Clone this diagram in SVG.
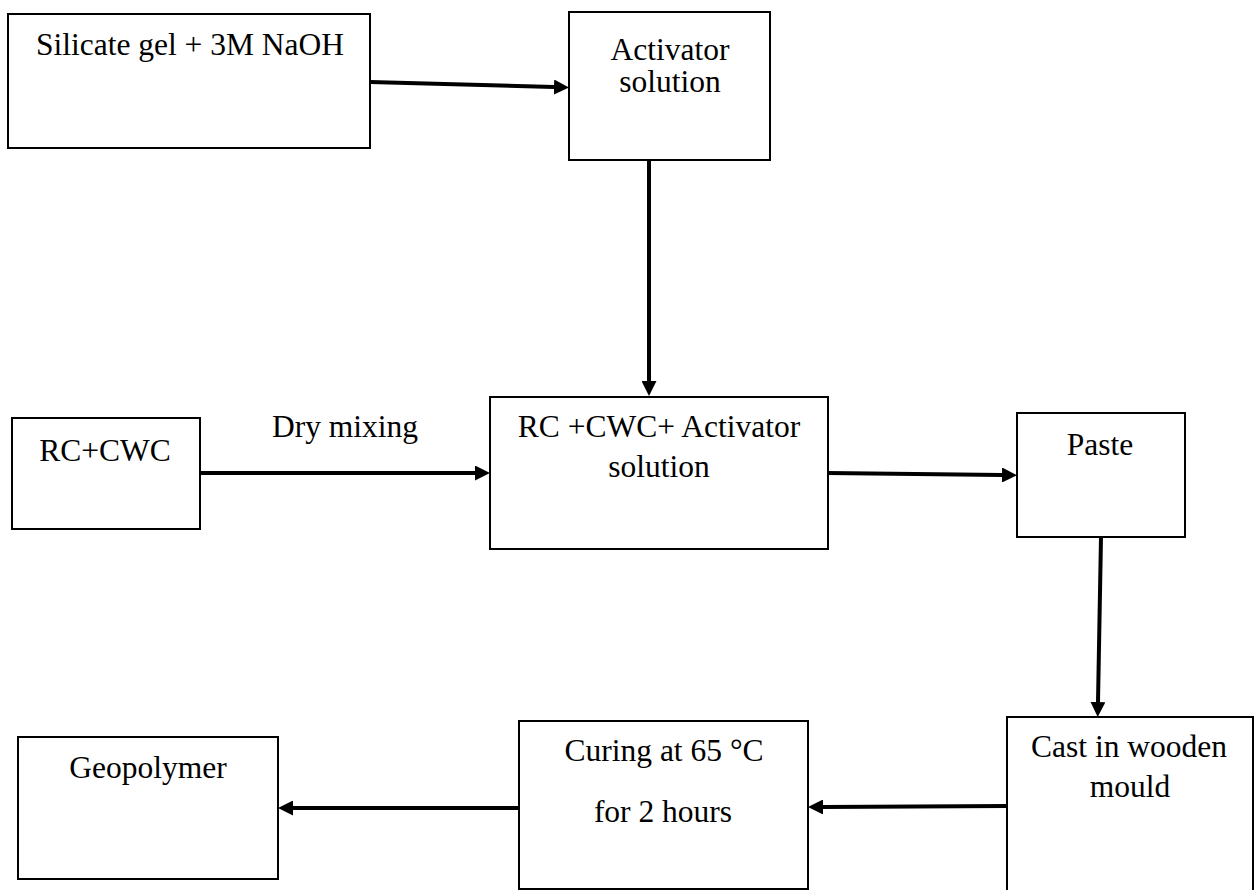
<svg xmlns="http://www.w3.org/2000/svg" width="1257" height="890" viewBox="0 0 1257 890">
<defs>
<style>
.box{fill:#fff;stroke:#000;stroke-width:2}
.t{font-family:"Liberation Serif","Times New Roman",serif;font-size:31.5px;fill:#000;text-anchor:middle}
.c{stroke:#000;stroke-width:4;fill:none}
</style>
<marker id="ah" markerUnits="userSpaceOnUse" markerWidth="15" markerHeight="15" refX="0" refY="7.5" orient="auto" viewBox="0 0 15 15">
<path d="M0,0 L15,7.5 L0,15 z" fill="#000"/>
</marker>
</defs>
<rect width="1257" height="890" fill="#fff"/>
<g id="n1"><rect class="box" x="8" y="14" width="362" height="134"/><text class="t" x="190" y="55">Silicate gel + 3M NaOH</text></g>
<g id="n2"><rect class="box" x="569" y="12" width="201" height="148"/><text class="t" x="670" y="60">Activator</text><text class="t" x="670" y="92">solution</text></g>
<g id="n3"><rect class="box" x="12" y="418" width="188" height="111"/><text class="t" x="105" y="461">RC+CWC</text></g>
<g id="n4"><rect class="box" x="490" y="397" width="338" height="152"/><text class="t" x="659" y="437">RC +CWC+ Activator</text><text class="t" x="659" y="477">solution</text></g>
<g id="n5"><rect class="box" x="1017" y="413" width="168" height="124"/><text class="t" x="1100" y="455">Paste</text></g>
<g id="n6"><rect class="box" x="1007" y="717" width="246" height="190"/><text class="t" x="1129" y="757">Cast in wooden</text><text class="t" x="1130" y="797">mould</text></g>
<g id="n7"><rect class="box" x="519" y="721" width="289" height="168"/><text class="t" x="664" y="761">Curing at 65 °C</text><text class="t" x="663" y="822">for 2 hours</text></g>
<g id="n8"><rect class="box" x="18" y="737" width="260" height="142"/><text class="t" x="148" y="778">Geopolymer</text></g>
<text class="t" x="345" y="437">Dry mixing</text>
<g id="connectors">
<line class="c" x1="370" y1="82" x2="554" y2="87" marker-end="url(#ah)"/>
<line class="c" x1="649" y1="160" x2="649" y2="381" marker-end="url(#ah)"/>
<line class="c" x1="200" y1="473" x2="475" y2="473" marker-end="url(#ah)"/>
<line class="c" x1="828" y1="473" x2="1002" y2="475" marker-end="url(#ah)"/>
<line class="c" x1="1101" y1="537" x2="1098" y2="702" marker-end="url(#ah)"/>
<line class="c" x1="1007" y1="806" x2="823" y2="807" marker-end="url(#ah)"/>
<line class="c" x1="519" y1="808" x2="293" y2="808" marker-end="url(#ah)"/>
</g>
</svg>
